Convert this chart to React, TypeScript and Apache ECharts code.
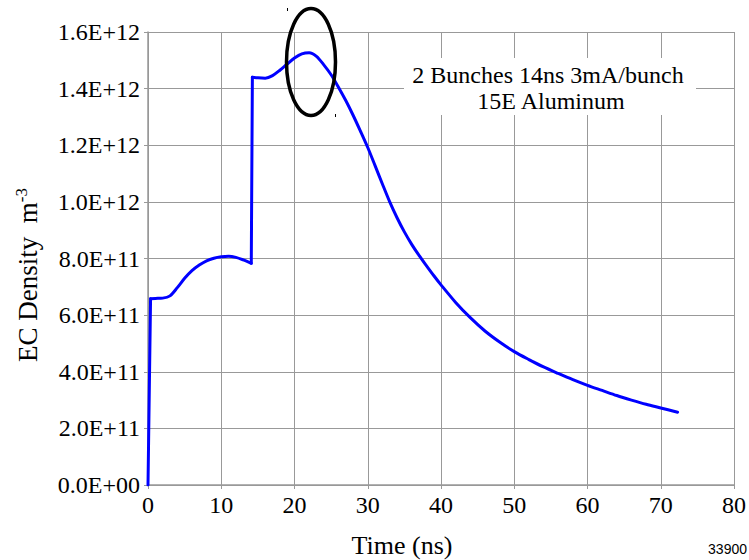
import React, { useEffect, useRef } from "react";
import * as echarts from "echarts";

// Time in ns
const times: number[] = [
  0, 0.35, 1, 2, 3, 4, 5, 6, 7, 8, 9, 10, 11, 12, 13, 14.1,
  14.25, 15, 16, 17, 18, 19, 20, 21, 22, 23, 24, 25, 26, 27, 28, 29,
  30, 31, 32, 33, 34, 35, 36, 37, 38, 39, 40, 42, 44, 46, 48, 50,
  52, 54, 56, 58, 60, 62, 64, 66, 68, 70, 72.3,
];
// EC density in units of 1E+12 m^-3
const density: number[] = [
  0, 0.658, 0.659, 0.66, 0.668, 0.697, 0.73, 0.757, 0.777, 0.792, 0.801, 0.806, 0.808, 0.804, 0.795, 0.783,
  1.44, 1.438, 1.437, 1.446, 1.465, 1.487, 1.508, 1.523, 1.527, 1.514, 1.484, 1.449, 1.405, 1.358, 1.306, 1.25,
  1.192, 1.128, 1.063, 1.0, 0.944, 0.894, 0.85, 0.811, 0.775, 0.74, 0.707, 0.645, 0.591, 0.544, 0.505, 0.471,
  0.443, 0.417, 0.394, 0.372, 0.352, 0.334, 0.316, 0.3, 0.285, 0.272, 0.257,
];
// indices where the curve jumps steeply (drawn as straight pieces)
const jumpEnds: number[] = [1, 16];
const xTicks = { min: 0, max: 80, interval: 10 };
const yTicks = { min: 0, max: 1.6e12, interval: 0.2e12 };
const annotation = ["2 Bunches 14ns 3mA/bunch", "15E Aluminum"];

const SERIF = "Liberation Serif";
const GRID = "#999999";

function fmtSci(v: number): string {
  if (v === 0) return "0.0E+00";
  const s = v.toExponential(1);
  const [m, e] = s.split("e");
  const n = parseInt(e, 10);
  const sign = n < 0 ? "-" : "+";
  return `${m}E${sign}${String(Math.abs(n)).padStart(2, "0")}`;
}

export default function App() {
  const ref = useRef<HTMLDivElement>(null);
  useEffect(() => {
    if (!ref.current) return;
    const chart = echarts.init(ref.current, undefined, { renderer: "svg" });
    const pts = times.map((t, i) => [t, density[i] * 1e12]);
    const pieces: { data: number[][]; smooth: boolean }[] = [
      { data: pts.slice(0, jumpEnds[0] + 1), smooth: false },
      { data: pts.slice(jumpEnds[0], jumpEnds[1]), smooth: true },
      { data: pts.slice(jumpEnds[1] - 1, jumpEnds[1] + 1), smooth: false },
      { data: pts.slice(jumpEnds[1]), smooth: true },
    ];
    const lineStyle = { color: "#0000ff", width: 3, cap: "round", join: "round" };
    chart.setOption({
      animation: false,
      backgroundColor: "#ffffff",
      textStyle: { fontFamily: SERIF },
      grid: { left: 148, right: 14, top: 32, bottom: 75 },
      xAxis: {
        type: "value",
        min: xTicks.min,
        max: xTicks.max,
        interval: xTicks.interval,
        axisLine: { show: true, lineStyle: { color: GRID, width: 1.5 } },
        axisTick: { show: true, length: 4, lineStyle: { color: GRID } },
        splitLine: { show: true, lineStyle: { color: GRID, width: 1 } },
        axisLabel: { color: "#000", fontFamily: SERIF, fontSize: 24, margin: 8 },
      },
      yAxis: {
        type: "value",
        min: yTicks.min,
        max: yTicks.max,
        interval: yTicks.interval,
        axisLine: { show: true, lineStyle: { color: GRID, width: 1.5 } },
        axisTick: { show: true, length: 4, lineStyle: { color: GRID } },
        splitLine: { show: true, lineStyle: { color: GRID, width: 1 } },
        axisLabel: {
          color: "#000",
          fontFamily: SERIF,
          fontSize: 24,
          margin: 8,
          formatter: (v: number) => fmtSci(v),
        },
      },
      series: pieces.map((p) => ({
        type: "line",
        data: p.data,
        showSymbol: false,
        smooth: p.smooth ? 0.3 : false,
        lineStyle,
        z: 3,
      })),
      graphic: [
        {
          type: "rect",
          shape: { x: 404, y: 58, width: 292, height: 57 },
          style: { fill: "#ffffff" },
          z: 10,
        },
        {
          type: "text",
          x: 548,
          y: 75,
          z: 11,
          style: {
            text: annotation[0],
            font: "24px Liberation Serif",
            fill: "#000",
            align: "center",
            verticalAlign: "middle",
          },
        },
        {
          type: "text",
          x: 551,
          y: 101,
          z: 11,
          style: {
            text: annotation[1],
            font: "24px Liberation Serif",
            fill: "#000",
            align: "center",
            verticalAlign: "middle",
          },
        },
        {
          type: "ellipse",
          shape: { cx: 311, cy: 62, rx: 24.5, ry: 53.5 },
          style: { fill: "none", stroke: "#000", lineWidth: 3.5 },
          z: 12,
        },
        {
          type: "rect",
          shape: { x: 287, y: 8, width: 1, height: 3 },
          style: { fill: "#000" },
          z: 12,
        },
        {
          type: "rect",
          shape: { x: 335, y: 114, width: 1, height: 3 },
          style: { fill: "#000" },
          z: 12,
        },
        {
          type: "text",
          x: 28,
          y: 275,
          rotation: Math.PI / 2,
          z: 11,
          style: {
            text: "{t|EC Density  m}{s|-3}",
            align: "center",
            verticalAlign: "middle",
            rich: {
              t: { fontFamily: SERIF, fontSize: 27, fill: "#000", lineHeight: 30 },
              s: { fontFamily: SERIF, fontSize: 17, fill: "#000", verticalAlign: "top", lineHeight: 30, padding: [0, 0, 10, 0] },
            },
          },
        },
        {
          type: "text",
          x: 402,
          y: 545,
          z: 11,
          style: {
            text: "Time (ns)",
            font: "26px Liberation Serif",
            fill: "#000",
            align: "center",
            verticalAlign: "middle",
          },
        },
        {
          type: "text",
          x: 747,
          y: 549,
          z: 11,
          style: {
            text: "33900",
            font: "14px Liberation Sans",
            fill: "#000",
            align: "right",
            verticalAlign: "middle",
          },
        },
      ],
    });
    return () => chart.dispose();
  }, []);
  return (
    <div
      ref={ref}
      style={{ position: "fixed", left: 0, top: 0, width: 749, height: 560 }}
    />
  );
}
